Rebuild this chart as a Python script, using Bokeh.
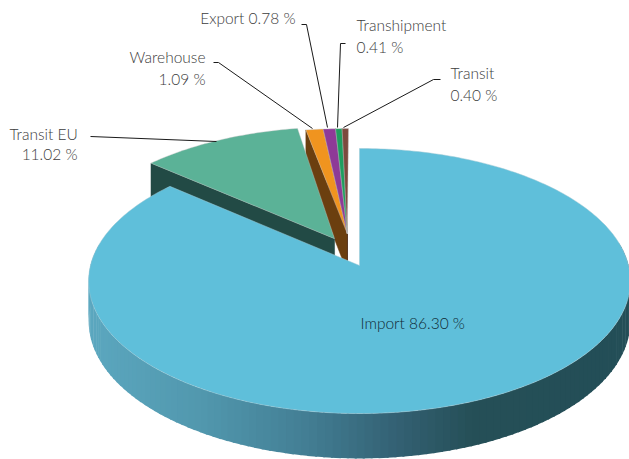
import numpy as np
from bokeh.plotting import figure
from bokeh.core.properties import value
from bokeh.embed import file_html
from bokeh.resources import INLINE

# ---- data ----
names = ["Import", "Transit EU", "Warehouse", "Export", "Transhipment", "Transit"]
shares = [86.30, 11.02, 1.09, 0.78, 0.41, 0.40]
top_colors = ["#5FBFDA", "#5BB297", "#F0941F", "#8E3A97", "#1F9E5F", "#7C4A3E"]
wall_colors = ["#4A8AA0", "#224A45", "#6B3F0F", "#4A1F50", "#10502F", "#3E251F"]

# ---- layout ----
W, H = 629, 459
X0, Y0, A, B, K, D = 359.0, 265.0, 269.0, 130.7, 0.117, 39.7
SMALL = (-0.0466, 0.25, 1.076, 0.944)
shifts = [(0, 0, 1, 1), (-0.095, 0.21, 1, 1), SMALL, SMALL, SMALL, SMALL]
TXT = "#3c3c3c"


def project(u, v, z=0.0):
    w = 1 + K * v
    return X0 + A * u / w, Y0 - (B * v - D * z) / w


def pt(a, s, z=0.0):
    r = np.radians(a)
    return project(np.sin(r) * s[2] + s[0], np.cos(r) * s[3] + s[1], z)


def arc(t0, t1, s):
    n = max(int(abs(t1 - t0)) + 2, 3)
    return pt(np.linspace(t0, t1, n), s)


p = figure(width=W - 8, height=H - 8, x_range=(8, W), y_range=(H, 8),
           output_backend="svg", toolbar_location=None, min_border=0,
           outline_line_color=None, background_fill_color="white")
p.axis.visible = False
p.grid.visible = False
p.styles = {"position": "absolute", "left": "8px", "top": "8px"}

# slice angle ranges, clockwise from 12 o'clock
edges = np.concatenate([[0], np.cumsum(shares)]) * 360.0 / sum(shares)

# Transit EU and the small slices: cut walls first, faces afterwards
for i in range(len(names) - 1, 0, -1):
    s = shifts[i]
    ax, ay = project(s[0], s[1])
    bx, by = project(s[0], s[1], 1.0)
    ox, oy = pt(edges[i], s)
    qx, qy = pt(edges[i], s, 1.0)
    p.patch([ox, ax, bx, qx], [oy, ay, by, qy], fill_color=wall_colors[i], line_color=wall_colors[i], line_width=0.5)
for i in range(1, len(names)):
    s = shifts[i]
    ax, ay = project(s[0], s[1])
    x, y = arc(edges[i], edges[i + 1], s)
    p.patch(np.r_[ax, x], np.r_[ay, y], fill_color=top_colors[i], line_color="#c8c8c8", line_width=0.4)

# Import: front wall with a shading ramp
stops_x = [85, 200, 300, 400, 470, 630]
stops_r = [0x5C, 0x52, 0x44, 0x33, 0x26, 0x23]
stops_g = [0xA8, 0x98, 0x80, 0x60, 0x50, 0x4E]
stops_b = [0xC0, 0xAE, 0x96, 0x72, 0x58, 0x57]
ts = np.arange(80.0, 281.0, 1.5)
xs, ys, cols = [], [], []
full = shifts[0]
for a0, a1 in zip(ts[:-1], ts[1:]):
    x0, y0 = pt(a0, full)
    x1, y1 = pt(a1 + 0.4, full)
    x2, y2 = pt(a1 + 0.4, full, 1.0)
    x3, y3 = pt(a0, full, 1.0)
    mx = (x0 + x1) / 2
    cols.append("#%02x%02x%02x" % (int(np.interp(mx, stops_x, stops_r)),
                                   int(np.interp(mx, stops_x, stops_g)),
                                   int(np.interp(mx, stops_x, stops_b))))
    xs.append([x0, x1, x2, x3])
    ys.append([y0, y1, y2, y3])
p.patches(xs, ys, fill_color=cols, line_color=None)

# Import: top face
ax, ay = project(0, 0)
x, y = arc(edges[0], edges[1], full)
p.patch(np.r_[ax, x], np.r_[ay, y], fill_color=top_colors[0], line_color="#9fc8d4", line_width=0.5)

# leader lines
leaders = [
    ([90, 216], [136, 141]),
    ([213, 218, 312], [62, 62, 128]),
    ([301, 306, 327], [24, 24, 127]),
    ([345, 340, 337], [43, 43, 127]),
    ([440, 433, 343], [79, 79, 127]),
]
for lx, ly in leaders:
    p.line(lx, ly, line_color="#1a1a1a", line_width=1)


def label(x, y, s, align="left", color=TXT):
    p.text([x], [y], text=[s], text_align=align, text_baseline="middle",
           text_font=value("Lato Light"), text_font_size="15.5px", text_color=color)


label(9, 133, "Transit EU")
label(77, 153, "11.02 %", "right")
label(205, 56, "Warehouse", "right")
label(205, 78, "1.09 %", "right")
label(295, 17, "Export 0.78 %", "right")
label(356, 24, "Transhipment")
label(356, 46, "0.41 %")
label(450, 72, "Transit")
label(450, 94, "0.40 %")
label(360, 322, "Import 86.30 %", color="#0f2a35")

open("out.html", "w").write(file_html(p, INLINE))
